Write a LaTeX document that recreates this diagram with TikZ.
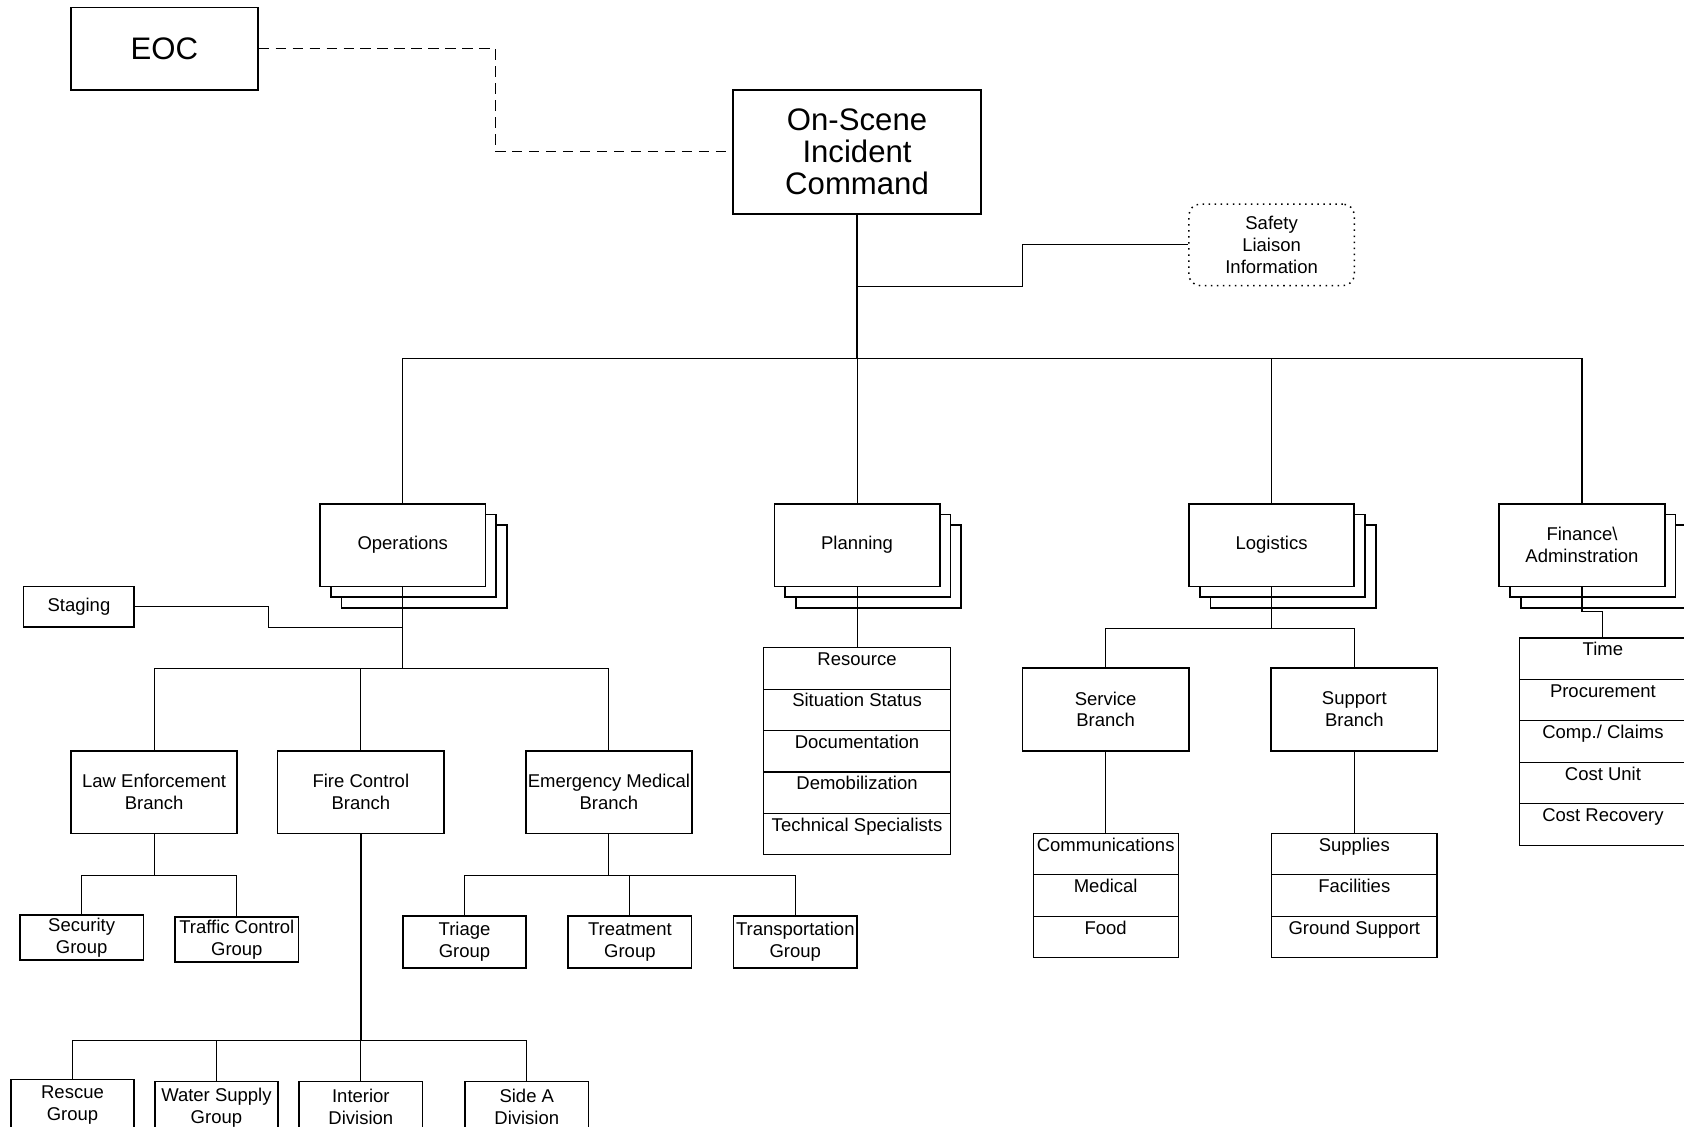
\documentclass[tikz,border=0pt]{standalone}
\usepackage{fontspec}
\setmainfont{Liberation Sans}
\usetikzlibrary{positioning}
\begin{document}
\begin{tikzpicture}[x=0.02cm, y=-0.02cm,
  box/.style={draw, line width=.9pt, fill=white, inner xsep=0pt, inner ysep=1pt, align=center, font=\fontsize{9.8}{11.6}\selectfont},
  bigbox/.style={box, font=\fontsize{16.5}{17}\selectfont},
  sect/.style={box, minimum width=3.08cm, minimum height=1.54cm},
  branch/.style={box, minimum width=3.1cm, minimum height=1.54cm},
  grp/.style={box, minimum width=2.3cm, minimum height=0.96cm},
  listrow/.style={draw, line width=.6pt, inner sep=0pt, outer sep=0pt, text height=0.33cm, text depth=0.442cm, font=\fontsize{9.8}{11.6}\selectfont},
  link/.style={line width=.55pt},
  trunk/.style={line width=.9pt}]
\useasboundingbox (0,0) rectangle (1568,1049);
\clip (0,0) rectangle (1568,1049);
% command level
\node[bigbox, minimum width=3.48cm, minimum height=1.54cm] (eoc) at (153,45.5) {EOC};
\node[bigbox, minimum width=4.62cm, minimum height=2.3cm] (isc) at (798,141.5) {On-Scene\\Incident\\Command};
\node[box, line width=.8pt, dash pattern=on .8pt off 2.4pt, rounded corners=6pt, minimum width=3.08cm, minimum height=1.52cm] (sli) at (1184,228) {Safety\\Liaison\\Information};
% sections
\node[sect] (ops3) at (395,527.5) {};
\node[sect] (ops2) at (385,517.5) {};
\node[sect] (ops) at (375,507.5) {Operations};
\node[sect] (plan3) at (818,527.5) {};
\node[sect] (plan2) at (808,517.5) {};
\node[sect] (plan) at (798,507.5) {Planning};
\node[sect] (logi3) at (1204,527.5) {};
\node[sect] (logi2) at (1194,517.5) {};
\node[sect] (logi) at (1184,507.5) {Logistics};
\node[sect] (fin3) at (1493,527.5) {};
\node[sect] (fin2) at (1483,517.5) {};
\node[sect] (fin) at (1473,507.5) {Finance\textbackslash\\Adminstration};
\node[box, minimum width=2.06cm, minimum height=0.76cm] (stg) at (73.5,565) {Staging};
% branches
\node[branch] (law) at (143.5,737.5) {Law Enforcement\\Branch};
\node[branch] (fire) at (336,737.5) {Fire Control\\Branch};
\node[branch] (ems) at (567,737.5) {Emergency Medical\\Branch};
\node[branch] (serv) at (1029.5,660.5) {Service\\Branch};
\node[branch] (supp) at (1261,660.5) {Support\\Branch};
% groups and divisions
\node[grp, minimum height=0.84cm] (sec) at (76,873) {Security\\Group};
\node[grp, minimum height=0.84cm] (trf) at (220.5,875) {Traffic Control\\Group};
\node[grp] (tri) at (432.5,877) {Triage\\Group};
\node[grp] (trt) at (586.5,877) {Treatment\\Group};
\node[grp] (trn) at (740.5,877) {Transportation\\Group};
\node[grp] (resc) at (67.5,1029) {Rescue\\Group};
\node[grp] (wat) at (201.5,1031) {Water Supply\\Group};
\node[grp] (intd) at (336,1031) {Interior\\Division};
\node[grp] (sida) at (490.5,1031) {Side A\\Division};
% unit lists
\node[listrow, minimum width=3.48cm, anchor=north] (pres) at (798,603) {Resource};
\node[listrow, minimum width=3.48cm, below=0pt of pres] (psit) {Situation Status};
\node[listrow, minimum width=3.48cm, below=0pt of psit] (pdoc) {Documentation};
\node[listrow, minimum width=3.48cm, below=0pt of pdoc] (pdem) {Demobilization};
\node[listrow, minimum width=3.48cm, below=0pt of pdem] (ptec) {Technical Specialists};
\node[listrow, minimum width=2.7cm, anchor=north] (comm) at (1029.5,776) {Communications};
\node[listrow, minimum width=2.7cm, below=0pt of comm] (med) {Medical};
\node[listrow, minimum width=2.7cm, below=0pt of med] (food) {Food};
\node[listrow, minimum width=3.08cm, anchor=north] (sups) at (1261,776) {Supplies};
\node[listrow, minimum width=3.08cm, below=0pt of sups] (faci) {Facilities};
\node[listrow, minimum width=3.08cm, below=0pt of faci] (grnd) {Ground Support};
\node[listrow, minimum width=3.1cm, anchor=north] (ftime) at (1492.5,594) {Time};
\node[listrow, minimum width=3.1cm, below=0pt of ftime] (fproc) {Procurement};
\node[listrow, minimum width=3.1cm, below=0pt of fproc] (fcomp) {Comp./ Claims};
\node[listrow, minimum width=3.1cm, below=0pt of fcomp] (fcost) {Cost Unit};
\node[listrow, minimum width=3.1cm, below=0pt of fcost] (frec) {Cost Recovery};
% connectors
\coordinate (bar) at (798,334);
\coordinate (opsj) at (375,584);
\draw[link, dash pattern=on 5.5pt off 3.5pt] (eoc.east) -- ++(221,0) |- (isc.west);
\draw[trunk] (isc) -- (bar);
\draw[link] (isc.south |- sli.south) -- ++(154,0) |- (sli.west);
\draw[link] (ops.north) |- (bar) -| (fin.north);
\draw[link] (bar) -- (plan.north);
\draw[link] (bar) -| (logi.north);
\draw[link] (stg.east) -- ++(124,0) |- (opsj);
\draw[link] (ops.south) -- ++(0,76) coordinate (opsbar) -| (law.north);
\draw[link] (opsbar) -| (fire.north);
\draw[link] (opsbar) -| (ems.north);
\draw[link] (law.south) -- ++(0,38) coordinate (lawbar) -| (sec.north);
\draw[link] (lawbar) -| (trf.north);
\draw[trunk] (fire.south) -- ++(0,192) coordinate (firebar);
\draw[link] (firebar) -| (resc.north);
\draw[link] (firebar) -| (wat.north);
\draw[link] (firebar) -- (intd.north);
\draw[link] (firebar) -| (sida.north);
\draw[link] (ems.south) -- ++(0,38) coordinate (emsbar) -| (tri.north);
\draw[link] (emsbar) -| (trt.north);
\draw[link] (emsbar) -| (trn.north);
\draw[link] (plan.south) -- (pres.north);
\draw[link] (logi.south) -- ++(0,38) coordinate (logibar) -| (serv.north);
\draw[link] (logibar) -| (supp.north);
\draw[link] (serv.south) -- (comm.north);
\draw[link] (supp.south) -- (sups.north);
\draw[link] (fin.south) -- ++(0,23) -| (ftime.north);
\end{tikzpicture}
\end{document}
